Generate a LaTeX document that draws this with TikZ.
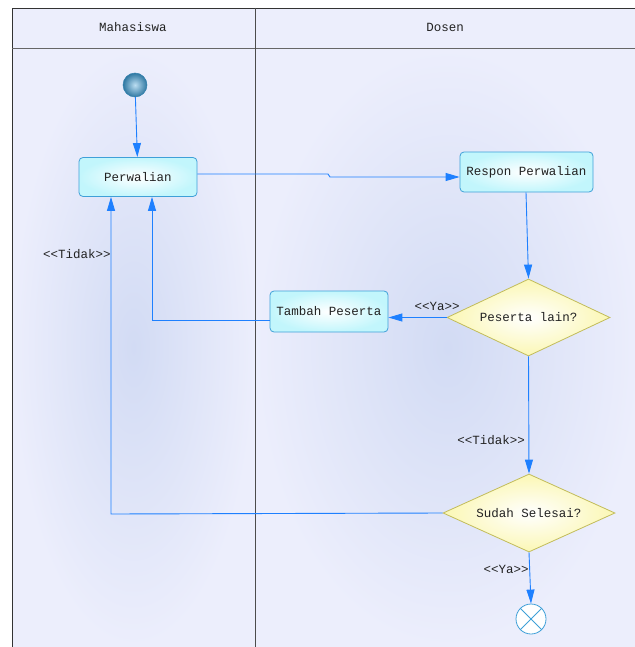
\documentclass[tikz,border=0pt]{standalone}
\usepackage{fontspec}
\setmonofont{Liberation Mono}
\usetikzlibrary{arrows.meta,shapes.geometric,shadings}
\definecolor{lane}{HTML}{ECEEFC}
\definecolor{lanemid}{HTML}{D2DBF4}
\definecolor{flow}{HTML}{1E80FF}
\definecolor{actborder}{HTML}{3FA0D8}
\definecolor{actfill}{HTML}{C2F6FC}
\definecolor{decborder}{HTML}{C2BC5A}
\definecolor{decfill}{HTML}{FBF7B4}
\definecolor{txt}{HTML}{222222}
\begin{document}
\begin{tikzpicture}[x=1pt,y=-1pt,
  every node/.style={font=\ttfamily\fontsize{12.5}{14}\selectfont, text=txt},
  flowline/.style={draw=flow, line width=0.9pt, -{Triangle[length=14pt,width=8pt]}},
  activity/.style={rectangle, rounded corners=4pt, draw=actborder, line width=0.8pt,
     inner color=white, outer color=actfill, align=center},
  decision/.style={diamond, draw=decborder, line width=0.8pt, inner color=white, outer color=decfill,
     aspect=2.1, inner sep=0pt},
  guard/.style={font=\ttfamily\fontsize{12.5}{14}\selectfont}
]
\useasboundingbox (0,0) rectangle (634,647);
% lanes background
\fill[white] (0,0) rectangle (634,647);
\shade[inner color=lanemid, outer color=lane] (12,48) rectangle (255,647);
\shade[inner color=lanemid, outer color=lane] (255,48) rectangle (640,647);
\fill[lane] (12,8) rectangle (640,48);
\draw[line width=0.9pt, black!80] (12,647) -- (12,8) -- (640,8);
\draw[line width=0.9pt, black!60] (12,48) -- (640,48);
\draw[line width=0.9pt, black!70] (255,8) -- (255,647);
\node (hm) at (133,27) {Mahasiswa};
\node (hd) at (445,27) {Dosen};

% nodes
\node[circle, minimum size=24pt, inner sep=0pt, draw=actborder!80!black, line width=0.5pt,
      inner color=actborder!35, outer color=actborder!75!black] (start) at (135,85) {};
\node[activity, minimum width=118pt, minimum height=39pt] (perw) at (138,177) {Perwalian};
\node[activity, minimum width=133pt, minimum height=40pt] (resp) at (526.5,172) {Respon Perwalian};
\node[decision, minimum width=163pt, minimum height=77pt] (lain) at (528.5,317.5) {Peserta lain?};
\node[activity, minimum width=118pt, minimum height=41pt] (tamb) at (329,311.5) {Tambah Peserta};
\node[decision, minimum width=172pt, minimum height=78pt] (sele) at (529,513) {Sudah Selesai?};
\node[circle, minimum size=30pt, inner sep=0pt, draw=actborder, line width=0.8pt, fill=white] (stop) at (531,619) {};
\draw[actborder, line width=0.8pt] (stop.north west) -- (stop.south east) (stop.north east) -- (stop.south west);

% connectors
\draw[flowline] (start) -- (perw);
\draw[flowline] (perw.east |- 0,174) -- (328,174) -- (330,177) -- (resp.west |- 0,177);
\draw[flowline] (resp.south -| 526,0) -- (lain.north);
\draw[flowline] (lain.west) -- (tamb.east |- lain.west);
\draw[flowline] (tamb.west |- 0,320) -- (152,320) -- (perw.south -| 152,0);
\draw[flowline] (lain.south) -- (sele.north);
\draw[flowline] (sele.west) -- (111,514) -- (perw.south -| 111,0);
\draw[flowline] (sele.south) -- (stop.north);

% guards
\node[guard] (g1) at (437,306) {<{}<Ya>{}>};
\node[guard] (g2) at (491,440) {<{}<Tidak>{}>};
\node[guard] (g3) at (77,254) {<{}<Tidak>{}>};
\node[guard] (g4) at (506,569) {<{}<Ya>{}>};
\end{tikzpicture}
\end{document}
